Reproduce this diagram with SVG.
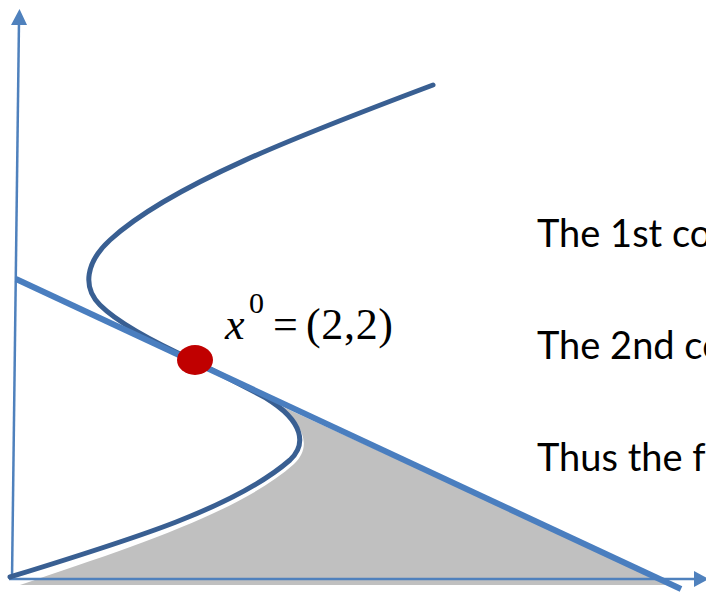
<svg xmlns="http://www.w3.org/2000/svg" width="706" height="594" viewBox="0 0 706 594">
<style>
.axis{stroke:#4f81bd;stroke-width:2.5;fill:none}
.head{fill:#4f81bd}
.curve{stroke:#395f92;stroke-width:5;fill:none;stroke-linecap:round}
.tangent{stroke:#4a7ebf;stroke-width:6;fill:none}
.txt{font-family:Lato,"Liberation Sans",sans-serif;font-size:38px;fill:#000}
.math{font-family:"Liberation Serif","Times New Roman",serif;fill:#000}
</style>
<rect width="706" height="594" fill="#fff"/>
<g id="feasible-region">
<path d="M20,585 C135,546 240,512 294,464 C310,449 309,426 272,402 L672,585 Z" fill="#c0c0c0"/>
</g>
<g id="axes">
<line class="axis" x1="12" y1="579" x2="19" y2="20"/>
<polygon class="head" points="11,25 27,25 19.5,9"/>
<line class="axis" x1="9" y1="579" x2="697" y2="579"/>
<polygon class="head" points="694,571 694,587 709,579"/>
</g>
<g id="constraint-curve">
<path class="curve" d="M10,577 C130,540 235,508 290,460 C306,445 305,422 266,398 L195,361 C160,345 120,325 100,305 C82,287 86,262 110,240 C170,185 300,135 433,85"/>
</g>
<g id="tangent-line">
<line class="tangent" x1="16" y1="279" x2="681" y2="589"/>
</g>
<g id="point-x0">
<ellipse cx="195" cy="360" rx="18" ry="15" fill="#c00000"/>
</g>
<g id="label-x0">
<text class="math" x="225" y="339" font-size="44" font-style="italic">x</text>
<text class="math" x="249" y="313" font-size="30">0</text>
<text class="math" x="273" y="339" font-size="44">=</text>
<text class="math" x="306" y="339" font-size="44" textLength="87" lengthAdjust="spacing">(2,2)</text>
</g>
<g id="notes">
<text class="txt" x="537" y="247">The 1st co</text>
<text class="txt" x="537" y="359">The 2nd co</text>
<text class="txt" x="537" y="471">Thus the f</text>
</g>
</svg>
